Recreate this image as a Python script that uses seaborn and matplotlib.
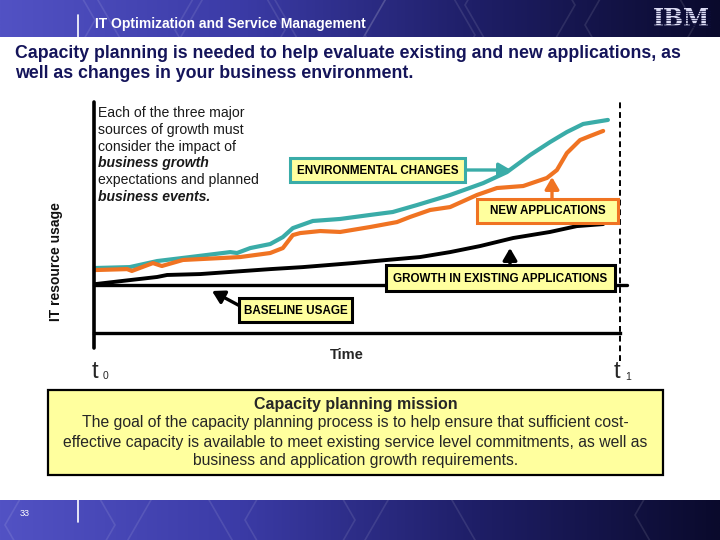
import numpy as np
import pandas as pd
import matplotlib
matplotlib.use("Agg")
import matplotlib.pyplot as plt
from matplotlib.patches import Rectangle, RegularPolygon
import seaborn as sns

sns.set_theme(style="white")
plt.rcParams['font.family'] = ['Liberation Sans', 'DejaVu Sans']

# time from t0 (0) to t1 (100), usage relative to baseline (0)
growth_time = [0.2, 6.8, 12.0, 13.9, 20.2, 33.5, 39.7, 49.2, 55.7, 62.0, 67.7, 73.4, 79.7, 86.7, 91.8, 96.8]
growth_usage = [0.5, 2.7, 4.4, 5.5, 6.0, 8.7, 9.8, 12.0, 13.7, 15.3, 18.0, 21.3, 25.7, 29.0, 32.2, 33.3]

newapp_time = [0.2, 6.3, 7.2, 11.2, 12.9, 16.9, 24.5, 27.8, 33.5, 35.9, 37.8, 39.2, 43.0, 46.8,
               52.5, 57.6, 60.1, 63.9, 67.7, 72.8, 76.6, 81.6, 86.1, 88.0, 89.9, 92.4, 94.3, 96.8]
newapp_usage = [8.2, 8.7, 7.7, 12.0, 10.4, 13.7, 14.8, 15.3, 17.5, 20.2, 27.3, 28.4, 29.5, 29.0,
                31.7, 34.4, 37.2, 41.0, 42.6, 49.2, 53.0, 54.1, 58.5, 62.8, 72.1, 79.2, 81.4, 84.2]

env_time = [0.2, 6.8, 12.0, 18.3, 24.5, 25.9, 27.2, 29.7, 33.5, 35.9, 37.8, 41.6, 46.8, 52.5,
            56.8, 61.4, 65.2, 67.7, 74.0, 78.5, 82.9, 86.7, 89.9, 93.0, 97.7]
env_usage = [9.3, 9.8, 13.1, 15.3, 17.5, 18.0, 17.5, 20.2, 22.4, 26.2, 31.1, 35.0, 36.1, 38.3,
             39.9, 43.7, 47.0, 49.2, 55.7, 61.7, 71.0, 78.1, 83.6, 88.0, 90.2]

TEAL = "#3aaca8"
ORANGE = "#f07322"
YELLOW = "#ffff9e"
NAVY = "#14145a"

fig = plt.figure(figsize=(7.2, 5.4), dpi=100)
fig.patch.set_facecolor("white")

# chart axes: pixel box x 94..620, y 102..333
ax = fig.add_axes([94 / 720, 1 - 333 / 540, 526 / 720, 231 / 540])
ax.set_xlim(0, 100)
ax.set_ylim(-26.2, 100)
ax.set_facecolor("none")
for s in ["top", "right", "left"]:
    ax.spines[s].set_visible(False)
ax.spines["bottom"].set_linewidth(2.4)
ax.spines["bottom"].set_color("black")
ax.set_xticks([])
ax.set_yticks([])
ax.grid(False)

sns.lineplot(x=env_time, y=env_usage, ax=ax, color=TEAL, lw=3.0, estimator=None, zorder=3)
sns.lineplot(x=newapp_time, y=newapp_usage, ax=ax, color=ORANGE, lw=3.0, estimator=None, zorder=4)
sns.lineplot(x=growth_time, y=growth_usage, ax=ax, color="black", lw=2.8, estimator=None, zorder=5)
ax.axhline(0, xmin=0, xmax=1.013, color="black", lw=2.4, clip_on=False, zorder=5)
ax.axvline(0, ymin=-0.065, ymax=1.0, color="black", lw=2.6, clip_on=False, zorder=6)
ax.axvline(100, ymin=-0.12, ymax=1.0, color="black", lw=1.4, ls=(0, (3, 2)), clip_on=False)

# overlay in pixel coordinates for slide decoration
ov = fig.add_axes([0, 0, 1, 1], zorder=10)
ov.axis("off")
ov.patch.set_alpha(0)

grad = np.linspace(0, 1, 256)
cmap = matplotlib.colors.LinearSegmentedColormap.from_list(
    "ibm", ["#5252c4", "#3b3ba6", "#1e1e66", "#0a0a2c"])
ov.imshow(grad[None, :], cmap=cmap, aspect="auto", extent=(0, 720, 37, 0), zorder=1)
ov.imshow(grad[None, :], cmap=cmap, aspect="auto", extent=(0, 720, 540, 500), zorder=1)
ov.set_xlim(0, 720)
ov.set_ylim(540, 0)

# faint hexagon texture, clipped to the bands
head_clip = Rectangle((0, 0), 720, 37, transform=ov.transData)
foot_clip = Rectangle((0, 500), 720, 40, transform=ov.transData)
for cx, cy in [(40, 20), (150, -5), (230, 30), (330, 0), (420, 35), (520, 5), (640, 25)]:
    hx = RegularPolygon((cx, cy), 6, radius=55, orientation=np.pi / 6, fill=False,
                        edgecolor="white", alpha=0.10, lw=1.2, zorder=2)
    ov.add_patch(hx)
    hx.set_clip_path(head_clip)
for cx, cy in [(60, 525), (180, 545), (300, 520), (420, 540), (690, 515)]:
    hx = RegularPolygon((cx, cy), 6, radius=55, orientation=np.pi / 6, fill=False,
                        edgecolor="white", alpha=0.10, lw=1.2, zorder=2)
    ov.add_patch(hx)
    hx.set_clip_path(foot_clip)

ov.plot([78, 78], [15, 37], color="white", lw=1.2, zorder=3)
ov.text(95, 24, "IT Optimization and Service Management", color="white", fontsize=10,
        fontweight="bold", va="center", ha="left", zorder=3)
ov.text(681, 18.5, "IBM", color="#dcdcf4", fontsize=17, fontweight="bold",
        family=["DejaVu Serif"], ha="center", va="center", zorder=3)
for yy in np.arange(10.5, 28, 2.4):
    ov.plot([652, 710], [yy, yy], color="#0e0e3a", lw=0.5, zorder=4)

ov.plot([78, 78], [500, 522], color="white", lw=1.2, zorder=3)
ov.text(25, 513, "33", color="white", fontsize=6.5, ha="center", va="center", zorder=3)

ov.text(15, 54, "Capacity planning is needed to help evaluate existing and new applications, as",
        color=NAVY, fontsize=12.8, fontweight="bold", va="center", zorder=3)
ov.text(15, 73, "well as changes in your business environment.",
        color=NAVY, fontsize=12.8, fontweight="bold", va="center", zorder=3)

ov.text(56, 262, "IT resource usage", rotation=90, fontsize=10, fontweight="bold",
        ha="center", va="center", color="#101010", zorder=3)

intro = [("Each of the three major", "normal", "normal"),
         ("sources of growth must", "normal", "normal"),
         ("consider the impact of", "normal", "normal"),
         ("business growth", "bold", "italic"),
         ("expectations and planned", "normal", "normal"),
         ("business events.", "bold", "italic")]
for i, (line, w, st) in enumerate(intro):
    ov.text(98, 113 + i * 16.8, line, fontsize=10.1, fontweight=w, fontstyle=st,
            color="#1a1a1a", va="center", ha="left", zorder=3)


def label_box(x0, y0, x1, y1, text, edge):
    ov.add_patch(Rectangle((x0, y0), x1 - x0, y1 - y0, facecolor=YELLOW,
                           edgecolor=edge, lw=2.2, zorder=6))
    ov.text((x0 + x1) / 2, (y0 + y1) / 2 + 0.5, text, fontsize=8.4, fontweight="bold",
            ha="center", va="center", color="black", zorder=7)


def arrow(x0, y0, x1, y1, col):
    ov.annotate("", xy=(x1, y1), xytext=(x0, y0),
                arrowprops=dict(arrowstyle="-|>,head_width=0.35,head_length=0.6",
                                color=col, lw=2.4, shrinkA=0, shrinkB=0), zorder=6)


arrow(465, 170, 511, 170, TEAL)
arrow(552, 199, 552, 177, ORANGE)
arrow(510, 265, 510, 248, "black")
arrow(240, 306, 212, 291, "black")

label_box(290, 158, 465, 182, "ENVIRONMENTAL CHANGES", TEAL)
label_box(477, 199, 618, 223, "NEW APPLICATIONS", ORANGE)
label_box(386, 265, 615, 291, "GROWTH IN EXISTING APPLICATIONS", "black")
label_box(239, 298, 352, 322, "BASELINE USAGE", "black")

ov.text(347, 355, "Time", fontsize=10.5, fontweight="bold", ha="center", va="center", zorder=3)
ov.text(92, 378, "t", fontsize=17, ha="left", va="baseline", zorder=3)
ov.text(103, 379, "0", fontsize=7.5, ha="left", va="baseline", zorder=3)
ov.text(614, 378, "t", fontsize=17, ha="left", va="baseline", zorder=3)
ov.text(625, 380, "1", fontsize=7.5, ha="left", va="baseline", zorder=3)

ov.add_patch(Rectangle((48, 390), 615, 85, facecolor=YELLOW, edgecolor="black", lw=1.6, zorder=3))
ov.text(355.5, 404, "Capacity planning mission", fontsize=11.5, fontweight="bold",
        ha="center", va="center", zorder=4)
mission = ["The goal of the capacity planning process is to help ensure that sufficient cost-",
           "effective capacity is available to meet existing service level commitments, as well as",
           "business and application growth requirements."]
for i, line in enumerate(mission):
    ov.text(355.5, 423 + i * 19, line, fontsize=11.3, ha="center", va="center", zorder=4)

fig.savefig("out.png", dpi=100)
